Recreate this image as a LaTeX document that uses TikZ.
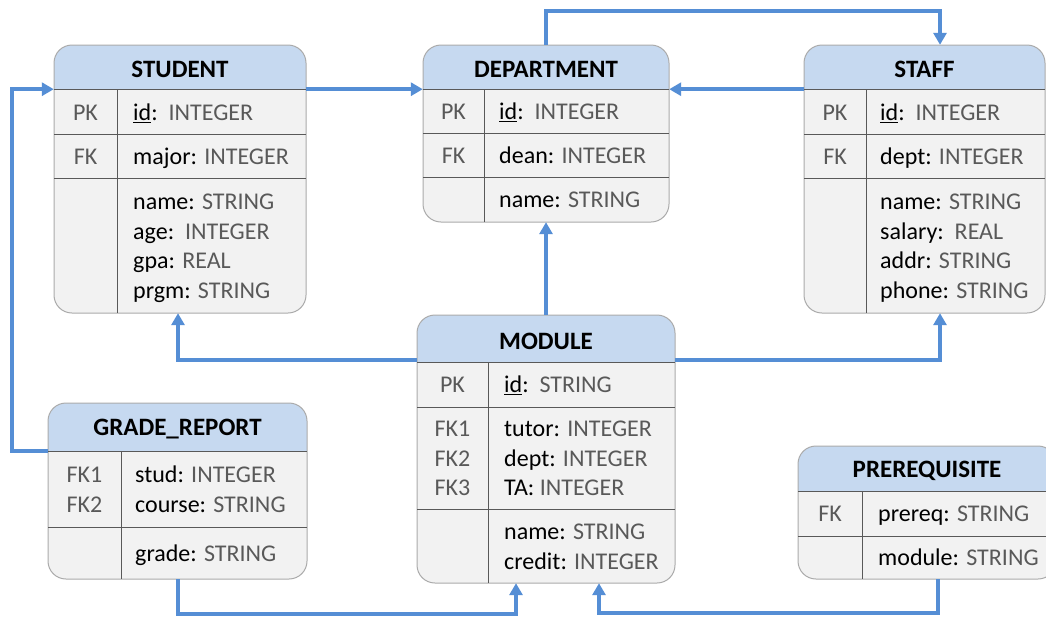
\documentclass[tikz,border=0pt]{standalone}
\usepackage{fontspec}
\setmainfont{Carlito}
\usetikzlibrary{arrows.meta,fit,calc}
\definecolor{hdrc}{HTML}{C6D9F0}
\definecolor{bodyc}{HTML}{F2F2F2}
\definecolor{framec}{HTML}{ABABAB}
\definecolor{gridc}{HTML}{595959}
\definecolor{connc}{HTML}{558ED5}
\definecolor{typec}{HTML}{595959}
\definecolor{keyc}{HTML}{595959}
\newcommand{\ty}[1]{\textcolor{typec}{#1}}
\newcommand{\fs}{\fontsize{24}{29.5}\selectfont}
\tikzset{
  conn/.style={draw=connc, line width=4pt, -{Triangle[length=12pt,width=13pt]}},
  fld/.style={anchor=west, align=left, inner sep=0pt, font=\fs, yshift=-2.5pt},
  keyt/.style={align=center, inner sep=0pt, text=keyc, font=\fs, yshift=-2.5pt},
  ttl/.style={inner sep=0pt, font=\fontsize{25}{28}\selectfont\bfseries},
  gridln/.style={draw=gridc, line width=0.9pt},
  erborder/.style={draw=framec, line width=1pt, rounded corners=18pt}
}
% name, x1, y1, x2, y2, y header bottom, x divider, title
\newcommand{\erframe}[8]{%
  \fill[bodyc, rounded corners=18pt] (#2,#3) rectangle (#4,#5);
  \begin{scope}
    \clip[rounded corners=18pt] (#2,#3) rectangle (#4,#5);
    \fill[hdrc] (#2,#3) rectangle (#4,#6);
  \end{scope}
  \draw[erborder] (#2,#3) rectangle (#4,#5);
  \draw[gridln] (#2,#6) -- (#4,#6);
  \draw[gridln] (#7,#6) -- (#7,#5);
  \node[fit={(#2,#3) (#4,#5)}, inner sep=0pt] (#1) {};
  \node[fit={(#2,#3) (#4,#6)}, inner sep=0pt] (#1-h) {};
  \node[ttl] (#1-t) at ($(#1-h.center)+(0,2.5)$) {#8};
}
\begin{document}
\begin{tikzpicture}[x=1pt,y=-1pt]
\useasboundingbox (0,0) rectangle (1046,619);
\clip (0,0) rectangle (1046,619);
\fill[white] (0,0) rectangle (1046,619);

% STUDENT
\erframe{student}{54}{45}{306}{313}{89}{117}{STUDENT}
\draw[gridln] (54,134) -- (306,134);
\draw[gridln] (54,178) -- (306,178);
\node[keyt] (student-k1) at (85.5,112) {\strut PK};
\node[keyt] (student-k2) at (85.5,156) {\strut FK};
\node[fld] (student-f1) at (133,112) {\strut\underline{id}:\ \ \ty{INTEGER}};
\node[fld] (student-f2) at (133,156) {\strut major: \ty{INTEGER}};
\node[fld] (student-f3) at (133,245.5) {\strut name: \ty{STRING}\\\strut age:\ \ \ty{INTEGER}\\\strut gpa: \ty{REAL}\\\strut prgm: \ty{STRING}};

% DEPARTMENT
\erframe{dept}{423}{45}{669}{222}{89}{484}{DEPARTMENT}
\draw[gridln] (423,133) -- (669,133);
\draw[gridln] (423,177) -- (669,177);
\node[keyt] (dept-k1) at (453.5,111) {\strut PK};
\node[keyt] (dept-k2) at (453.5,155) {\strut FK};
\node[fld] (dept-f1) at (499,111) {\strut\underline{id}:\ \ \ty{INTEGER}};
\node[fld] (dept-f2) at (499,155) {\strut dean: \ty{INTEGER}};
\node[fld] (dept-f3) at (499,199.5) {\strut name: \ty{STRING}};

% STAFF
\erframe{staff}{804}{45}{1045}{313}{89}{866}{STAFF}
\draw[gridln] (804,134) -- (1045,134);
\draw[gridln] (804,178) -- (1045,178);
\node[keyt] (staff-k1) at (835,112) {\strut PK};
\node[keyt] (staff-k2) at (835,156) {\strut FK};
\node[fld] (staff-f1) at (880,112) {\strut\underline{id}:\ \ \ty{INTEGER}};
\node[fld] (staff-f2) at (880,156) {\strut dept: \ty{INTEGER}};
\node[fld] (staff-f3) at (880,245.5) {\strut name: \ty{STRING}\\\strut salary:\ \ \ty{REAL}\\\strut addr: \ty{STRING}\\\strut phone: \ty{STRING}};

% GRADE_REPORT
\erframe{grade}{48}{403}{307}{579}{451}{121}{GRADE\_REPORT}
\draw[gridln] (48,527) -- (307,527);
\node[keyt] (grade-k1) at (84.5,489) {\strut FK1\\\strut FK2};
\node[fld] (grade-f1) at (135,489) {\strut stud: \ty{INTEGER}\\\strut course: \ty{STRING}};
\node[fld] (grade-f2) at (135,553) {\strut grade: \ty{STRING}};

% MODULE
\erframe{module}{417}{315}{675}{583}{362}{488}{MODULE}
\draw[gridln] (417,407) -- (675,407);
\draw[gridln] (417,509) -- (675,509);
\node[keyt] (module-k1) at (452.5,384.5) {\strut PK};
\node[keyt] (module-k2) at (452.5,458) {\strut FK1\\\strut FK2\\\strut FK3};
\node[fld] (module-f1) at (504,384.5) {\strut\underline{id}:\ \ \ty{STRING}};
\node[fld] (module-f2) at (504,458) {\strut tutor: \ty{INTEGER}\\\strut dept: \ty{INTEGER}\\\strut TA: \ty{INTEGER}};
\node[fld] (module-f3) at (504,546) {\strut name: \ty{STRING}\\\strut credit: \ty{INTEGER}};

% PREREQUISITE
\erframe{prereq}{798}{446}{1056}{579}{491}{862}{PREREQUISITE}
\draw[gridln] (798,536) -- (1056,536);
\node[keyt] (prereq-k1) at (830,513.5) {\strut FK};
\node[fld] (prereq-f1) at (878,513.5) {\strut prereq: \ty{STRING}};
\node[fld] (prereq-f2) at (878,557.5) {\strut module: \ty{STRING}};

% connectors
\draw[conn] (grade-h.south west) -- ++(-36,0) |- (student-h.south west);
\draw[conn] (student-h.south east) -- (dept-h.south west);
\draw[conn] (staff-h.south west) -- (dept-h.south east);
\draw[conn] (dept.north) -- ++(0,-34) -| ([xshift=15.5pt]staff.north);
\draw[conn] (module.north) -- (dept.south);
\draw[conn] ([yshift=2pt]module-h.south west) -| ([xshift=-2pt]student.south);
\draw[conn] ([yshift=2pt]module-h.south east) -| ([xshift=15.5pt]staff.south);
\draw[conn] (grade.south) -- ++(0,35) -| ([xshift=-30pt]module.south);
\draw[conn] ([xshift=11pt]prereq.south) -- ++(0,34) -| ([xshift=53pt]module.south);
\end{tikzpicture}
\end{document}
